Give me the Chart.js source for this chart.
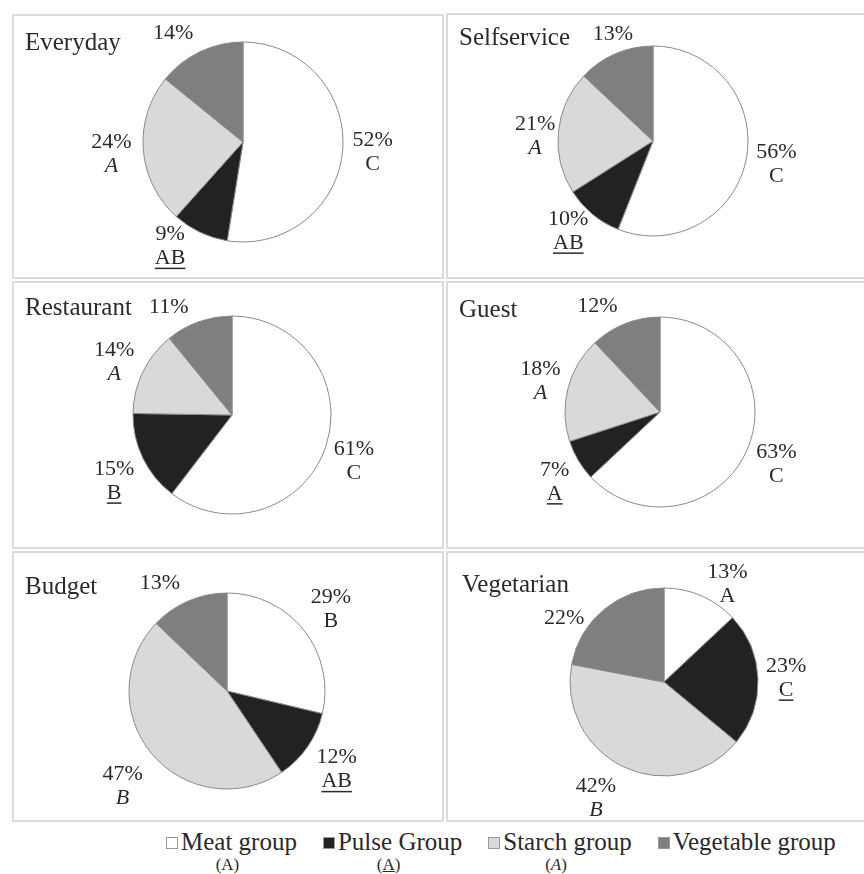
<!DOCTYPE html>
<html>
<head>
<meta charset="utf-8">
<script src="https://cdn.jsdelivr.net/npm/chart.js@4.4.1/dist/chart.umd.min.js"></script>
<style>
  body { margin: 0; background: #fff; width: 864px; height: 874px; overflow: hidden; position: relative;
         font-family: 'Liberation Serif', 'Times New Roman', serif; color: #2a2a2a; }
  .panel { position: absolute; border: 2px solid #dcdcdc; box-sizing: border-box; }
  .layer { position: absolute; left: 0; top: 0; }
  #legend { position: absolute; left: 166px; top: 828px; display: flex; gap: 26px; }
  .item { display: flex; flex-direction: column; align-items: center; }
  .item .main { display: flex; align-items: center; font-size: 25px; line-height: 28px; white-space: nowrap; }
  .item .box { width: 10px; height: 10px; border: 1px solid #999; margin-right: 3px; margin-top: 2px; }
  .item .sub { font-size: 17px; line-height: 18px; margin-right: 8px; }
</style>
</head>
<body>
<div id="panels"></div>
<div id="legend"></div>
<script>
// food groups (slice order, clockwise from 12 o'clock)
const groups = ['Meat group', 'Pulse Group', 'Starch group', 'Vegetable group'];
const groupColors = ['#ffffff', '#222222', '#d9d9d9', '#7f7f7f'];
const groupLetters = ['A', 'A', 'A', ''];
const letterStyles = ['normal', 'underline', 'italic', 'normal'];

const scenarios = ['Everyday', 'Selfservice', 'Restaurant', 'Guest', 'Budget', 'Vegetarian'];

// shares (%)
const everyday = [52, 9, 24, 14];
const selfservice = [56, 10, 21, 13];
const restaurant = [61, 15, 14, 11];
const guest = [63, 7, 18, 12];
const budget = [29, 12, 47, 13];
const vegetarian = [13, 23, 42, 22];

// significance letters
const everydayLetters = ['C', 'AB', 'A', ''];
const selfserviceLetters = ['C', 'AB', 'A', ''];
const restaurantLetters = ['C', 'B', 'A', ''];
const guestLetters = ['C', 'A', 'A', ''];
const budgetLetters = ['B', 'AB', 'B', ''];
const vegetarianLetters = ['A', 'C', 'B', ''];

const allValues = [everyday, selfservice, restaurant, guest, budget, vegetarian];
const allLetters = [everydayLetters, selfserviceLetters, restaurantLetters, guestLetters, budgetLetters, vegetarianLetters];

// layout (page px)
const panelBoxes = [
  [12, 14, 432, 265], [446, 13, 420, 266],
  [12, 281, 432, 268], [446, 281, 420, 268],
  [12, 551, 432, 271], [446, 551, 420, 271]
];
const pieGeom = [[243, 142, 100], [653, 141, 95], [232, 415, 99], [660, 412, 95], [227, 691, 98], [664, 682, 94]];
const titlePos = [[25, 43], [459, 38], [25, 308], [459, 310], [25, 587], [462, 585]];
const labelNudges = [
  [[0, 0], [-17, -13], [-2, 2], [-14, 9]],
  [[2, 0], [-6, -5], [5, 7], [9, 7]],
  [[0, 5], [-2, 10], [-2, 3], [-20, 13]],
  [[3, 3], [1, 7], [0, 0], [-17, 9]],
  [[4, -3], [5, 6], [-7, 13], [-17, 9]],
  [[15, 14], [0, 0], [-16, 6], [-22, 30]]
];

const W = 864, H = 874;
const FONT = '"Liberation Serif", "Times New Roman", serif';

const sliceLabels = {
  id: 'sliceLabels',
  afterDatasetsDraw(chart, args, opts) {
    const ctx = chart.ctx;
    const arcs = chart.getDatasetMeta(0).data;
    const values = chart.data.datasets[0].data;
    ctx.save();
    ctx.fillStyle = '#2a2a2a';
    ctx.strokeStyle = '#2a2a2a';
    ctx.textAlign = 'center';
    ctx.textBaseline = 'middle';
    arcs.forEach((arc, i) => {
      const mid = (arc.startAngle + arc.endAngle) / 2;
      const R = arc.outerRadius * 1.3;
      const x = arc.x + Math.cos(mid) * R + opts.nudges[i][0];
      const y = arc.y + Math.sin(mid) * R + opts.nudges[i][1];
      const letter = opts.letters[i];
      const py = letter ? y - 12 : y;
      ctx.font = '22px ' + FONT;
      ctx.fillText(values[i] + '%', x, py);
      if (letter) {
        const st = letterStyles[i];
        ctx.font = (st === 'italic' ? 'italic ' : '') + '22px ' + FONT;
        const ly = py + 24;
        ctx.fillText(letter, x, ly);
        if (st === 'underline') {
          const w = ctx.measureText(letter).width;
          ctx.lineWidth = 1.5;
          ctx.beginPath();
          ctx.moveTo(x - w / 2, ly + 10);
          ctx.lineTo(x + w / 2, ly + 10);
          ctx.stroke();
        }
      }
    });
    ctx.textAlign = 'left';
    ctx.font = '25px ' + FONT;
    ctx.fillText(opts.title, opts.titlePos[0], opts.titlePos[1]);
    ctx.restore();
  }
};

const panelsEl = document.getElementById('panels');
panelBoxes.forEach(([x, y, w, h]) => {
  const d = document.createElement('div');
  d.className = 'panel';
  d.style.left = x + 'px'; d.style.top = y + 'px';
  d.style.width = w + 'px'; d.style.height = h + 'px';
  panelsEl.appendChild(d);
});

scenarios.forEach((name, k) => {
  const [cx, cy, r] = pieGeom[k];
  const canvas = document.createElement('canvas');
  canvas.className = 'layer';
  canvas.width = W; canvas.height = H;
  document.body.appendChild(canvas);
  new Chart(canvas, {
    type: 'pie',
    data: {
      labels: groups,
      datasets: [{
        data: allValues[k],
        backgroundColor: groupColors,
        borderColor: '#8a8a8a',
        borderWidth: 1,
        hoverOffset: 0
      }]
    },
    options: {
      responsive: false,
      animation: false,
      events: [],
      radius: r,
      layout: { padding: { left: cx - r, right: W - cx - r, top: cy - r, bottom: H - cy - r } },
      plugins: {
        legend: { display: false },
        tooltip: { enabled: false },
        sliceLabels: { letters: allLetters[k], nudges: labelNudges[k], title: name, titlePos: titlePos[k] }
      }
    },
    plugins: [sliceLabels]
  });
});

// legend
const legendEl = document.getElementById('legend');
groups.forEach((g, i) => {
  const item = document.createElement('div');
  item.className = 'item';
  const main = document.createElement('div');
  main.className = 'main';
  const box = document.createElement('span');
  box.className = 'box';
  box.style.background = groupColors[i];
  const txt = document.createElement('span');
  txt.textContent = g;
  main.appendChild(box); main.appendChild(txt);
  item.appendChild(main);
  const sub = document.createElement('div');
  sub.className = 'sub';
  if (groupLetters[i]) {
    const l = document.createElement('span');
    l.textContent = groupLetters[i];
    if (letterStyles[i] === 'italic') l.style.fontStyle = 'italic';
    if (letterStyles[i] === 'underline') l.style.textDecoration = 'underline';
    sub.append('(', l, ')');
  } else {
    sub.innerHTML = '&nbsp;';
  }
  item.appendChild(sub);
  legendEl.appendChild(item);
});
</script>
</body>
</html>
